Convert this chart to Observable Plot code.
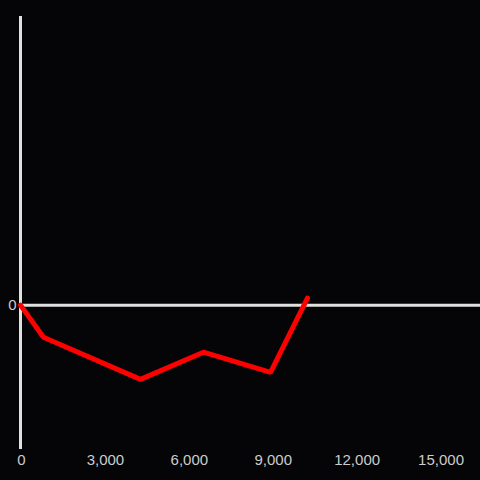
<!DOCTYPE html>
<html>
<head>
<meta charset="utf-8">
<script src="https://cdn.jsdelivr.net/npm/d3@7"></script>
<script src="https://cdn.jsdelivr.net/npm/@observablehq/plot@0.6"></script>
<style>
  html, body { margin: 0; padding: 0; background: #050407; }
  #chart svg { display: block; }
</style>
</head>
<body>
<div id="chart"></div>
<script>
const xValues = [0, 820, 4290, 6540, 8940, 10260];
const yValues = [0, -0.222, -0.514, -0.326, -0.465, 0.049];
const xTicks = [0, 3000, 6000, 9000, 12000, 15000];
const yTicks = [0];

const data = xValues.map((x, i) => ({x, y: yValues[i]}));

const chart = Plot.plot({
  width: 480,
  height: 480,
  marginLeft: 20,
  marginRight: 0,
  marginTop: 16,
  marginBottom: 31,
  style: {background: "#050407", color: "#cccccc", fontFamily: "Liberation Sans, Arial, sans-serif", fontSize: "15px"},
  x: {domain: [0, 16447]},
  y: {domain: [-1, 2]},
  marks: [
    Plot.axisX({ticks: xTicks, tickSize: 0, tickPadding: 5, tickFormat: d3.format(","), label: null, fill: "#cccccc", fontSize: 15, dx: 1}),
    Plot.axisY({ticks: yTicks, tickSize: 0, tickPadding: 4, tickFormat: d => String(d), label: null, fill: "#cccccc", fontSize: 15}),
    Plot.ruleY([0], {stroke: "#e0e0e0", strokeWidth: 3}),
    Plot.ruleX([0], {stroke: "#e0e0e0", strokeWidth: 3}),
    Plot.line(data, {x: "x", y: "y", stroke: "#ff0000", strokeWidth: 5, strokeLinejoin: "miter"})
  ]
});
document.getElementById("chart").appendChild(chart);
</script>
</body>
</html>
